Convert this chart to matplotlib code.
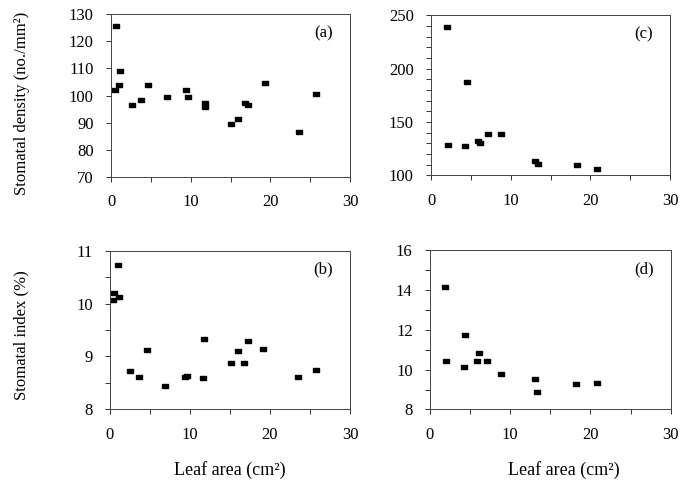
import matplotlib
matplotlib.use("Agg")
import matplotlib.pyplot as plt
from matplotlib.ticker import MultipleLocator

plt.rcParams['font.family'] = ['Liberation Serif', 'DejaVu Serif']

# panel (a): stomatal density vs leaf area
a_x = [0.63, 0.5, 1.13, 1.05, 2.6, 3.76, 4.6, 7.0, 9.45, 9.66, 11.83, 11.83,
       15.1, 16.0, 16.85, 17.2, 19.36, 23.6, 25.76]
a_y = [125.4, 102.2, 109.0, 103.9, 96.4, 98.3, 104.0, 99.6, 102.0, 99.6, 97.3, 95.6,
       89.7, 91.4, 97.3, 96.4, 104.7, 86.5, 100.4]

# panel (b): stomatal index vs leaf area
b_x = [0.42, 0.54, 1.04, 1.13, 2.5, 3.66, 4.58, 6.83, 9.42, 9.62, 11.67, 11.8,
       15.08, 16.0, 16.75, 17.2, 19.17, 23.5, 25.7]
b_y = [10.07, 10.2, 10.73, 10.12, 8.72, 8.62, 9.13, 8.45, 8.62, 8.63, 8.60, 9.33,
       8.88, 9.11, 8.87, 9.30, 9.14, 8.62, 8.74]

# panel (c)
c_x = [1.97, 4.48, 2.1, 4.27, 5.86, 6.15, 7.2, 8.74, 13.1, 13.4, 18.3, 20.87]
c_y = [238.8, 187.4, 128.7, 127.5, 132.0, 130.0, 138.8, 138.2, 113.6, 110.5, 109.2, 105.4]

# panel (d)
d_x = [1.83, 2.0, 4.36, 4.24, 5.9, 6.07, 7.1, 8.8, 13.1, 13.3, 18.2, 20.8]
d_y = [14.14, 10.43, 11.75, 10.15, 10.45, 10.84, 10.45, 9.8, 9.52, 8.87, 9.27, 9.33]

rect = [(-1, -0.72), (1, -0.72), (1, 0.72), (-1, 0.72), (-1, -0.72)]

fig = plt.figure(figsize=(6.81, 4.8), dpi=100)

panels = [
    # rect, x, y, ylim, major, minor, tag
    ([0.163, 0.631, 0.351, 0.340], a_x, a_y, (70, 130), 10, None, '(a)'),
    ([0.633, 0.635, 0.351, 0.333], c_x, c_y, (100, 250), 50, 10, '(c)'),
    ([0.1615, 0.147, 0.3524, 0.331], b_x, b_y, (8, 11), 1, 0.5, '(b)'),
    ([0.6314, 0.147, 0.3534, 0.332], d_x, d_y, (8, 16), 2, 1, '(d)'),
]

axes = []
for pos, xs, ys, ylim, major, minor, tag in panels:
    ax = fig.add_axes(pos)
    ax.plot(xs, ys, linestyle='none', marker=rect, markersize=4.0, color='black')
    ax.set_xlim(0, 30)
    ax.set_ylim(*ylim)
    ax.xaxis.set_major_locator(MultipleLocator(10))
    ax.xaxis.set_minor_locator(MultipleLocator(5))
    ax.yaxis.set_major_locator(MultipleLocator(major))
    if minor:
        ax.yaxis.set_minor_locator(MultipleLocator(minor))
    ax.tick_params(which='both', direction='out', length=3.5, width=0.7,
                   color='#333333', labelsize=12, pad=9)
    for s in ax.spines.values():
        s.set_linewidth(0.7)
        s.set_color('#444444')
    ax.text(0.93, 0.88, tag, transform=ax.transAxes, ha='right', va='center',
            fontsize=12)
    axes.append(ax)

ax_a, ax_c, ax_b, ax_d = axes

ax_a.set_ylabel('Stomatal density (no./mm²)', fontsize=12)
ax_a.yaxis.set_label_coords(-0.34, 0.45)
ax_b.set_ylabel('Stomatal index (%)', fontsize=12)
ax_b.yaxis.set_label_coords(-0.335, 0.468)

ax_b.set_xlabel('Leaf area (cm²)', fontsize=13)
ax_b.xaxis.set_label_coords(0.5, -0.325)
ax_d.set_xlabel('Leaf area (cm²)', fontsize=13)
ax_d.xaxis.set_label_coords(0.557, -0.325)

fig.savefig('out.png', dpi=100)
